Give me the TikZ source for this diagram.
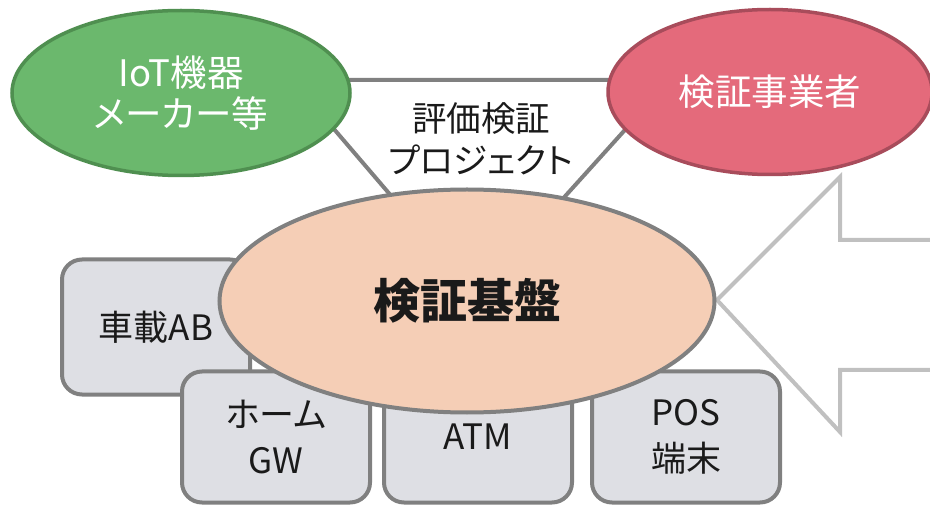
\documentclass[tikz,border=0pt]{standalone}
\usepackage{fontspec}
\setmainfont{Noto Sans CJK JP}[RawFeature=+palt]
\usetikzlibrary{shapes.geometric}
\definecolor{iotfill}{HTML}{6BB86D}
\definecolor{iotdraw}{HTML}{4F8F50}
\definecolor{evalfill}{HTML}{E46A7B}
\definecolor{evaldraw}{HTML}{A84C5B}
\definecolor{basefill}{HTML}{F5CEB6}
\definecolor{linegray}{HTML}{808080}
\definecolor{boxfill}{HTML}{DEDFE4}
\definecolor{arrowgray}{HTML}{C0C0C0}
\definecolor{textblack}{HTML}{1A1A1A}

\begin{document}
\begin{tikzpicture}[x=1pt,y=-1pt,
  party/.style={ellipse, line width=3.5pt, inner sep=0pt, text=white, align=center, font=\fontsize{36.5}{41}\selectfont},
  target/.style={rectangle, rounded corners=20pt, draw=linegray, fill=boxfill, line width=4pt, minimum width=188pt, minimum height=131pt, inner sep=0pt, align=center, text=textblack, font=\fontsize{35}{46}\selectfont}]
\useasboundingbox (0,0) rectangle (930,505);
\clip (0,0) rectangle (930,505);

\coordinate (triL) at (292,80);
\coordinate (triR) at (670,80);
\coordinate (triB) at (476,295);
\draw[linegray, line width=4pt, line join=round] (triL) -- (triR) -- (triB) -- cycle;

\node[party, fill=iotfill, draw=iotdraw, minimum width=338pt, minimum height=165pt] (iot) at (181,93) {IoT機器\\メーカー等};
\node[party, fill=evalfill, draw=evaldraw, minimum width=324pt, minimum height=165pt] (vendor) at (770,92) {検証事業者};
\node[align=center, text=textblack, font=\fontsize{34.5}{42}\selectfont] (project) at (481,139) {評価検証\\プロジェクト};

\coordinate (tip) at (717,300);
\coordinate (headT) at (840,177);
\coordinate (shaftT) at (840,240);
\coordinate (endT) at (940,240);
\coordinate (endB) at (940,370);
\coordinate (shaftB) at (840,370);
\coordinate (headB) at (840,432);
\draw[arrowgray, fill=white, line width=4pt] (tip) -- (headT) -- (shaftT) -- (endT) -- (endB) -- (shaftB) -- (headB) -- cycle;

\node[target, minimum height=135pt] (car) at (156,327) {車載AB};
\node[target] (home) at (276,437) {ホーム\\GW};
\node[target] (atm) at (478,437) {ATM};
\node[target] (pos) at (686,437) {POS\\端末};

\node[ellipse, fill=basefill, draw=linegray, line width=4pt, inner sep=0pt, minimum width=495pt, minimum height=223pt, text=textblack, font=\fontsize{47}{50}\selectfont\bfseries] (base) at (467,301) {検証基盤};
\end{tikzpicture}
\end{document}
